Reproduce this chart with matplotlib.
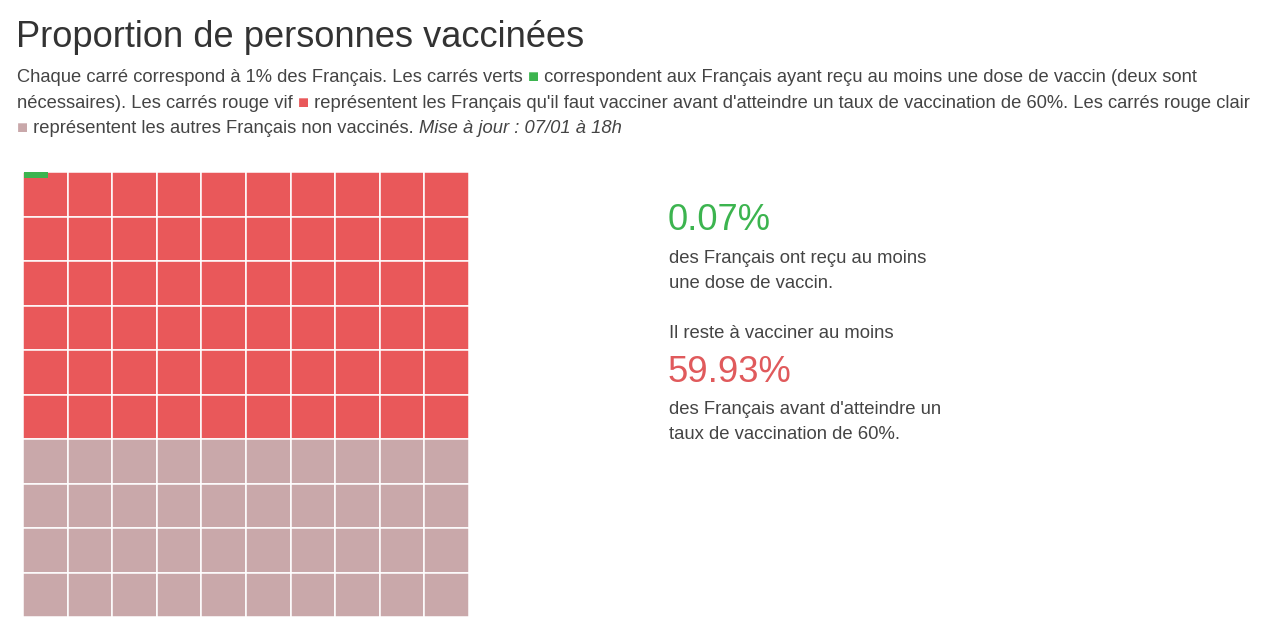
import matplotlib
matplotlib.use("Agg")
import matplotlib.pyplot as plt
from matplotlib.patches import Rectangle

# data
categories = ["vaccinés", "à vacciner avant 60%", "autres non vaccinés"]
values = [0.07, 59.93, 40.0]
colors = ["#3cb44f", "#e9585a", "#c9a8aa"]
n_rows, n_cols = 10, 10

title = "Proportion de personnes vaccinées"
date_label = "Mise à jour : 07/01 à 18h"

W, H = 1280, 626
fig = plt.figure(figsize=(W / 100, H / 100), dpi=100)
plt.rcParams['font.family'] = ['Liberation Sans', 'DejaVu Sans']
renderer = fig.canvas.get_renderer()

def px(x, y):
    return x / W, 1 - y / H

def runs(x, y, parts, size=13.2):
    # draw pieces of text one after the other on a baseline
    for txt, col, style in parts:
        t = fig.text(*px(x, y), txt, color=col, fontsize=size, style=style,
                     va="baseline", ha="left")
        x = t.get_window_extent(renderer).x1
    return x

fig.text(*px(16, 47), title, fontsize=26.1, color="#333333", va="baseline")

body = "#444444"
sq = "■"
runs(17, 82, [("Chaque carré correspond à 1% des Français. Les carrés verts ", body, "normal"),
              (sq, colors[0], "normal"),
              (" correspondent aux Français ayant reçu au moins une dose de vaccin (deux sont", body, "normal")])
runs(17, 108, [("nécessaires). Les carrés rouge vif ", body, "normal"),
               (sq, colors[1], "normal"),
               (" représentent les Français qu'il faut vacciner avant d'atteindre un taux de vaccination de 60%. Les carrés rouge clair", body, "normal")])
runs(17, 133, [(sq, colors[2], "normal"),
               (" représentent les autres Français non vaccinés. ", body, "normal"),
               (date_label, body, "italic")])

# waffle
ax = fig.add_axes([23 / W, 1 - 617 / H, 446 / W, 445 / H])
ax.set_xlim(0, n_cols)
ax.set_ylim(n_rows, 0)
ax.axis("off")
red_cells = round(values[0] + values[1])
for i in range(n_rows * n_cols):
    r, c = divmod(i, n_cols)
    col = colors[1] if i < red_cells else colors[2]
    ax.add_patch(Rectangle((c, r), 1, 1, facecolor=col, edgecolor="white", lw=1.1))
# partial green square for the vaccinated share
frac = values[0] - int(values[0])
gw = 0.55
ax.add_patch(Rectangle((0.02, 0.0), gw, frac / gw, facecolor=colors[0], lw=0))

# right-hand summary
big = 26.2
small = 13.3
fig.text(*px(668, 230), f"{values[0]:.2f}%", fontsize=big, color="#3cb44f", va="baseline")
fig.text(*px(669, 263), "des Français ont reçu au moins", fontsize=small, color=body, va="baseline")
fig.text(*px(669, 288), "une dose de vaccin.", fontsize=small, color=body, va="baseline")
fig.text(*px(669, 338), "Il reste à vacciner au moins", fontsize=small, color=body, va="baseline")
fig.text(*px(668, 382), f"{values[1]:.2f}%", fontsize=big, color="#e05a5c", va="baseline")
fig.text(*px(669, 414), "des Français avant d'atteindre un", fontsize=small, color=body, va="baseline")
fig.text(*px(669, 439), "taux de vaccination de 60%.", fontsize=small, color=body, va="baseline")

fig.savefig("out.png", dpi=100, facecolor="white")
